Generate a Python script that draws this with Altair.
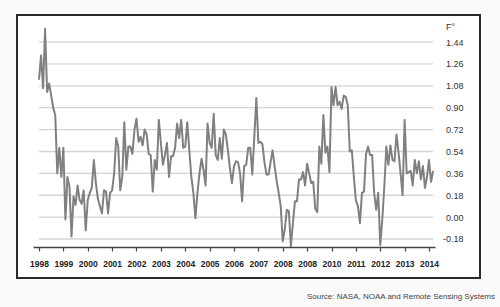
import altair as alt
import pandas as pd

# ---- data (monthly anomalies, °F) ----
anom_1998 = [1.13, 1.33, 1.06, 1.55, 1.03, 1.10, 1.00, 0.90, 0.84, 0.36, 0.57, 0.33]
anom_1999 = [0.57, -0.02, 0.33, 0.25, -0.16, 0.17, 0.10, 0.26, 0.14, 0.11, 0.22, -0.11]
anom_2000 = [0.14, 0.20, 0.24, 0.47, 0.28, 0.15, 0.09, 0.03, 0.22, 0.21, 0.03, 0.20]
anom_2001 = [0.22, 0.36, 0.65, 0.58, 0.22, 0.33, 0.78, 0.39, 0.58, 0.58, 0.52, 0.72]
anom_2002 = [0.81, 0.62, 0.66, 0.59, 0.72, 0.68, 0.52, 0.51, 0.21, 0.47, 0.39, 0.80]
anom_2003 = [0.61, 0.43, 0.51, 0.61, 0.33, 0.50, 0.50, 0.57, 0.77, 0.65, 0.80, 0.57]
anom_2004 = [0.58, 0.78, 0.55, 0.33, 0.20, -0.01, 0.20, 0.36, 0.48, 0.39, 0.26, 0.77]
anom_2005 = [0.61, 0.57, 0.85, 0.51, 0.47, 0.65, 0.48, 0.72, 0.68, 0.55, 0.40, 0.28]
anom_2006 = [0.42, 0.46, 0.45, 0.36, 0.13, 0.42, 0.43, 0.57, 0.57, 0.35, 0.66, 0.98]
anom_2007 = [0.61, 0.62, 0.60, 0.45, 0.35, 0.35, 0.45, 0.55, 0.42, 0.30, 0.20, 0.09]
anom_2008 = [-0.20, -0.10, 0.06, 0.05, -0.24, -0.05, 0.13, 0.13, 0.31, 0.31, 0.37, 0.26]
anom_2009 = [0.44, 0.36, 0.28, 0.29, 0.07, 0.04, 0.58, 0.44, 0.84, 0.53, 0.58, 0.37]
anom_2010 = [1.07, 0.92, 1.07, 0.92, 0.95, 0.89, 1.00, 0.99, 0.92, 0.54, 0.55, 0.33]
anom_2011 = [0.14, 0.09, -0.05, 0.20, 0.21, 0.52, 0.58, 0.51, 0.51, 0.20, 0.06, 0.20]
anom_2012 = [-0.23, -0.02, 0.25, 0.58, 0.43, 0.59, 0.47, 0.46, 0.68, 0.53, 0.36, 0.18]
anom_2013 = [0.80, 0.36, 0.37, 0.38, 0.26, 0.47, 0.36, 0.46, 0.31, 0.42, 0.24, 0.33]
anom_2014 = [0.47, 0.29, 0.38]

tick_years = list(range(1998, 2015))
year_labels = ["1998", "1999", "2000", "2001", "2002", "2003", "2004", "2005",
               "2006", "2007", "2008", "2008", "2010", "2011", "2012", "2013", "2014"]
y_ticks = [-0.18, 0.00, 0.18, 0.36, 0.54, 0.72, 0.90, 1.08, 1.26, 1.44]
unit_label = "F°"
source_text = "Source: NASA, NOAA and Remote Sensing Systems"

anomalies = (anom_1998 + anom_1999 + anom_2000 + anom_2001 + anom_2002 + anom_2003
             + anom_2004 + anom_2005 + anom_2006 + anom_2007 + anom_2008 + anom_2009
             + anom_2010 + anom_2011 + anom_2012 + anom_2013 + anom_2014)
t = [1998 + i / 12 for i in range(len(anomalies))]
df = pd.DataFrame({"t": t, "v": anomalies})
grid_df = pd.DataFrame({"v": y_ticks, "t": [t[0]] * len(y_ticks), "t_end": [t[-1]] * len(y_ticks)})
src_df = pd.DataFrame({"label": [source_text]})
frame_df = pd.DataFrame({"k": [0]})

x_scale = alt.Scale(domain=[1997.754, 2014.246], nice=False, zero=False)
y_scale = alt.Scale(domain=[-0.246, 1.556], nice=False, zero=False)

labels_js = "[" + ",".join("'" + s + "'" for s in year_labels) + "]"

x_axis = alt.Axis(values=tick_years, labelExpr=labels_js + "[round(datum.value) - 1998]",
                  grid=False, domainColor="#444", domainWidth=1.5,
                  tickColor="#444", tickSize=4, tickWidth=1.2,
                  labelFont="Liberation Sans", labelFontWeight="bold",
                  labelFontSize=8.5, labelColor="#222", labelPadding=8.5,
                  labelOverlap=False, labelFlush=False, zindex=2)
y_axis = alt.Axis(orient="right", values=y_ticks, grid=False, domain=False,
                  ticks=False, tickSize=0,
                  labelExpr="replace(format(datum.value, '.2f'), '\u2212', '-')",
                  labelAlign="right", labelBaseline="middle", labelPadding=28,
                  labelFont="Liberation Sans", labelFontSize=9, labelColor="#333",
                  labelOverlap=False, labelFlush=False,
                  title=unit_label, titleAngle=0, titleX=15, titleY=-1.5,
                  titleAlign="center", titleBaseline="middle",
                  titleFont="Liberation Sans", titleFontSize=9,
                  titleFontWeight="normal", titleColor="#333", zindex=2)

frame = alt.Chart(frame_df).mark_rect(fill="white", stroke="#2a2a2a", strokeWidth=2).encode(
    x=alt.value(-16), x2=alt.value(447), y=alt.value(-13), y2=alt.value(250)
)

grid = alt.Chart(grid_df).mark_rule(color="#d4d4d4", strokeWidth=1.3).encode(
    x=alt.X("t:Q", scale=x_scale, axis=x_axis, title=None),
    x2="t_end:Q",
    y=alt.Y("v:Q", scale=y_scale, axis=y_axis),
)

line = alt.Chart(df).mark_line(color="#808080", strokeWidth=2, strokeJoin="round").encode(
    x=alt.X("t:Q", scale=x_scale, axis=x_axis, title=None),
    y=alt.Y("v:Q", scale=y_scale, axis=y_axis),
)

source = alt.Chart(src_df).mark_text(
    align="right", baseline="middle", font="Liberation Sans", fontSize=8, color="#444"
).encode(text="label:N", x=alt.value(462), y=alt.value(268.5))

chart = alt.layer(frame, grid, line, source).properties(
    width=402, height=219,
    autosize=alt.AutoSizeParams(type="none"),
    padding={"left": 33, "top": 28, "right": 65, "bottom": 60},
    background="#fafafa",
).configure_view(stroke=None)

chart.save("out.html", embed_options={"renderer": "svg", "actions": False})
